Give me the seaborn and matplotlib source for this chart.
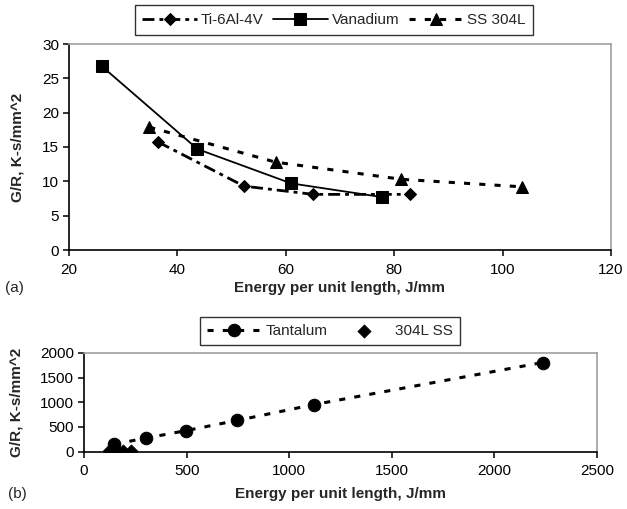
import matplotlib
matplotlib.use("Agg")
import matplotlib.pyplot as plt
import seaborn as sns

# ---- data ----
ti_x = [36.5, 52.3, 65.1, 82.9]
ti_y = [15.7, 9.3, 8.1, 8.1]
v_x = [26.0, 43.7, 61.0, 77.8]
v_y = [26.8, 14.7, 9.7, 7.7]
ss_x = [34.8, 58.1, 81.3, 103.6]
ss_y = [17.9, 12.8, 10.3, 9.2]

ta_x = [148, 300, 499, 747, 1121, 2235]
ta_y = [150, 270, 426, 631, 953, 1807]
ss2_x = [124, 159, 192, 230]
ss2_y = [17.9, 12.8, 10.3, 9.2]

top_xticks = [20, 40, 60, 80, 100, 120]
top_yticks = [0, 5, 10, 15, 20, 25, 30]
bot_xticks = [0, 500, 1000, 1500, 2000, 2500]
bot_yticks = [0, 500, 1000, 1500, 2000]

sns.set_style("white")
plt.rcParams['font.family'] = ['Liberation Sans', 'DejaVu Sans']

fig = plt.figure(figsize=(6.27, 5.09), dpi=100)
W, H = 627, 509
ax1 = fig.add_axes([69 / W, 1 - 250 / H, (611 - 69) / W, (250 - 44) / H])
ax2 = fig.add_axes([84 / W, 1 - 451.5 / H, (597 - 84) / W, (451.5 - 353) / H])

fs = 11

# ---- top chart ----
sns.lineplot(x=ti_x, y=ti_y, ax=ax1, color="black", lw=2.0,
             linestyle=(0, (4.3, 1.8, 1.4, 1.8)), marker="D", markersize=6.5,
             markeredgecolor="black", label="Ti-6Al-4V")
sns.lineplot(x=v_x, y=v_y, ax=ax1, color="black", lw=1.3, linestyle="-",
             marker="s", markersize=8, markeredgecolor="black", label="Vanadium")
sns.lineplot(x=ss_x, y=ss_y, ax=ax1, color="black", lw=2.2,
             linestyle=(0, (2.0, 3.0)), marker="^", markersize=8.5,
             markeredgecolor="black", label="SS 304L")

ax1.set_xlim(20, 120)
ax1.set_ylim(0, 30)
ax1.set_xticks(top_xticks)
ax1.set_yticks(top_yticks)
ax1.set_xlabel("Energy per unit length, J/mm", fontsize=fs, fontweight="bold")
ax1.set_ylabel("G/R, K-s/mm^2", fontsize=fs, fontweight="bold")
ax1.xaxis.set_label_coords(0.5, (250 - 288) / 206)
ax1.yaxis.set_label_coords((18 - 69) / 542, 0.5)

# ---- bottom chart ----
sns.lineplot(x=ta_x, y=ta_y, ax=ax2, color="black", lw=2.2,
             linestyle=(0, (2.0, 3.0)), marker="o", markersize=9,
             markeredgecolor="black", label="Tantalum")
sns.scatterplot(x=ss2_x, y=ss2_y, ax=ax2, color="black", marker="D", s=45,
                edgecolor="black", label="304L SS", zorder=3)

ax2.set_xlim(0, 2500)
ax2.set_ylim(0, 2000)
ax2.set_xticks(bot_xticks)
ax2.set_yticks(bot_yticks)
ax2.set_xlabel("Energy per unit length, J/mm", fontsize=fs, fontweight="bold")
ax2.set_ylabel("G/R, K-s/mm^2", fontsize=fs, fontweight="bold")
ax2.xaxis.set_label_coords(0.5, (451.5 - 494) / 98.5)
ax2.yaxis.set_label_coords((17 - 84) / 513, 0.5)

for ax in (ax1, ax2):
    ax.xaxis.label.set_va("center")
    ax.yaxis.label.set_va("center")
    for s in ("top", "right"):
        ax.spines[s].set_visible(True)
        ax.spines[s].set_color("#a0a0a0")
        ax.spines[s].set_linewidth(1.2)
    for s in ("left", "bottom"):
        ax.spines[s].set_color("black")
        ax.spines[s].set_linewidth(1.2)
    ax.tick_params(axis="both", which="major", direction="out", length=4,
                   width=1.1, color="black", labelsize=fs, pad=3,
                   bottom=True, left=True)
    ax.tick_params(axis="x", pad=5)
    ax.grid(False)
    for lab in ax.get_xticklabels() + ax.get_yticklabels():
        lab.set_color("black")

leg1 = ax1.legend(loc="center", bbox_to_anchor=(334 / W, 1 - 20 / H),
                  bbox_transform=fig.transFigure, ncol=3, frameon=True,
                  fancybox=False, edgecolor="black", fontsize=fs,
                  handlelength=3.6, handletextpad=0.25, columnspacing=0.6,
                  borderpad=0.5, borderaxespad=0)
leg1.get_frame().set_linewidth(1.0)

leg2 = ax2.legend(loc="center", bbox_to_anchor=(330 / W, 1 - 331 / H),
                  bbox_transform=fig.transFigure, ncol=2, frameon=True,
                  fancybox=False, edgecolor="black", fontsize=fs,
                  handlelength=3.6, handletextpad=0.25, columnspacing=0.6,
                  borderpad=0.45, borderaxespad=0)
leg2.get_frame().set_linewidth(1.0)

fig.text(5 / W, 1 - 288 / H, "(a)", fontsize=fs, va="center", ha="left")
fig.text(8 / W, 1 - 494 / H, "(b)", fontsize=fs, va="center", ha="left")

fig.savefig("out.png", dpi=100)
